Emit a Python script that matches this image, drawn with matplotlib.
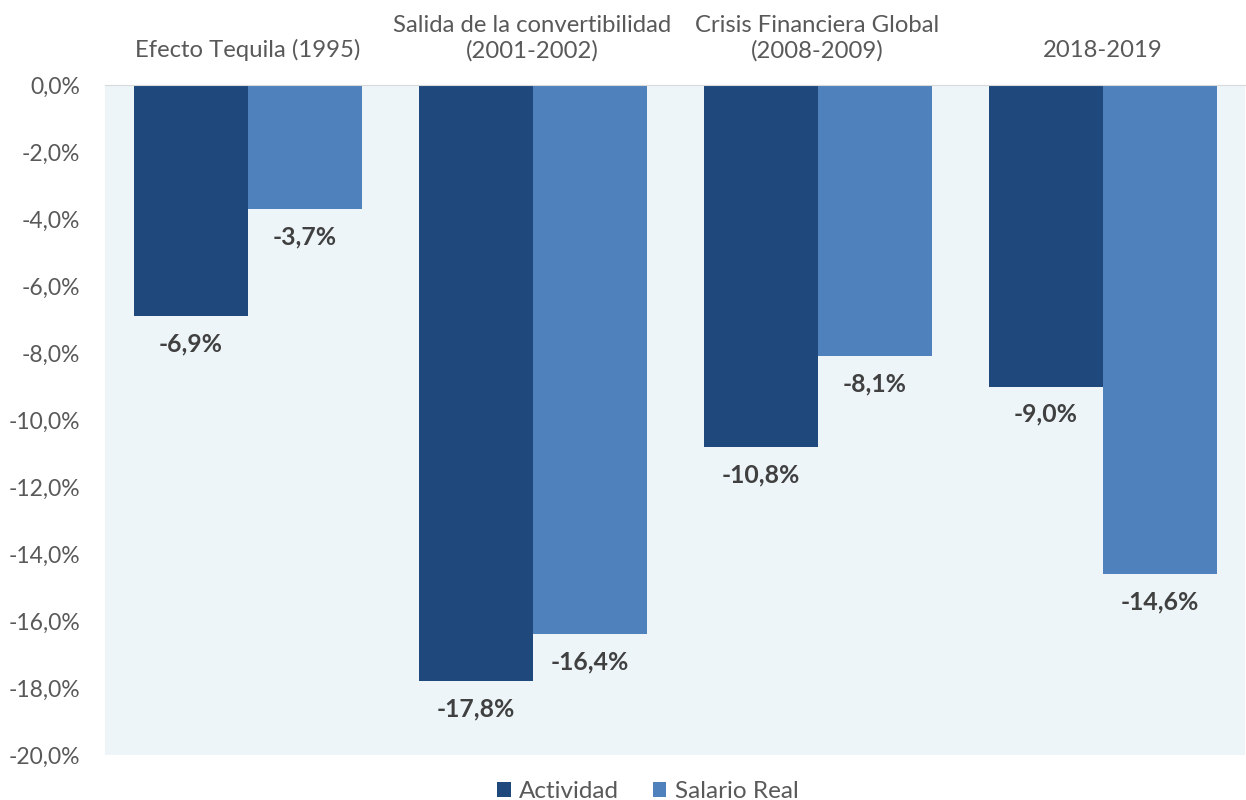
import numpy as np
import matplotlib.pyplot as plt
from matplotlib.ticker import FuncFormatter

categories = ["Efecto Tequila (1995)", "Salida de la convertibilidad\n(2001-2002)",
              "Crisis Financiera Global\n(2008-2009)", "2018-2019"]
actividad = [-6.9, -17.8, -10.8, -9.0]
salario_real = [-3.7, -16.4, -8.1, -14.6]

dark = "#1F497D"
light = "#4F81BD"
text_gray = "#595959"

plt.rcParams['font.family'] = ['Lato', 'DejaVu Sans']

fig = plt.figure(figsize=(12.46, 8), dpi=100)
ax = fig.add_axes([0.0843, 0.05625, 0.9150, 0.8375])
ax.set_facecolor("#EDF5F9")

x = np.arange(len(categories))
w = 0.4
b1 = ax.bar(x - w / 2, actividad, w, color=dark, label="Actividad")
b2 = ax.bar(x + w / 2, salario_real, w, color=light, label="Salario Real")

for bars, vals in ((b1, actividad), (b2, salario_real)):
    for bar, v in zip(bars, vals):
        ax.annotate(f"{v:.1f}%".replace(".", ","),
                    (bar.get_x() + bar.get_width() / 2, v),
                    xytext=(0, -20), textcoords="offset points",
                    ha="center", va="center", fontsize=17.8, fontweight="bold",
                    color="#404040")

ax.set_xlim(-0.5, 3.5)
ax.set_ylim(-20, 0)
ax.set_yticks(np.arange(-20, 0.1, 2))
ax.yaxis.set_major_formatter(FuncFormatter(lambda v, p: f"{v:.1f}%".replace(".", ",")))
ax.xaxis.tick_top()
ax.set_xticks(x)
ax.set_xticklabels(categories, fontsize=17.2)
ax.tick_params(axis="both", length=0, labelcolor=text_gray)
ax.tick_params(axis="y", labelsize=16.5, pad=18)
ax.tick_params(axis="x", pad=17)
for lbl in ax.get_yticklabels():
    lbl.set_horizontalalignment("right")

for s in ("left", "right", "bottom"):
    ax.spines[s].set_visible(False)
ax.spines["top"].set_color("#D9D9D9")

leg = fig.legend(loc="lower center", bbox_to_anchor=(0.52, -0.03), ncol=2, frameon=False,
                 fontsize=17.5, handlelength=0.55, handleheight=0.55, columnspacing=1.4,
                 handletextpad=0.35)
for t in leg.get_texts():
    t.set_color(text_gray)

fig.savefig("out.png", dpi=100)
